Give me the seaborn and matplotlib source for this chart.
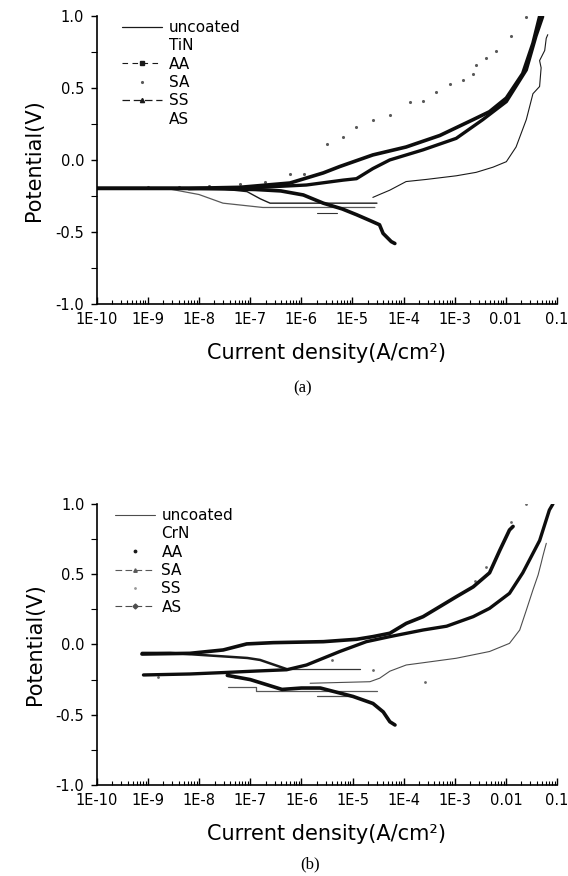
import numpy as np
import matplotlib
matplotlib.use("Agg")
import matplotlib.pyplot as plt
from matplotlib.lines import Line2D
from matplotlib.ticker import LogLocator, MultipleLocator, FormatStrFormatter, NullFormatter
import seaborn as sns

sns.set_style("ticks")
plt.rcParams['font.family'] = ['DejaVu Sans']
plt.rcParams.update({"text.color": "black", "axes.labelcolor": "black",
                     "xtick.color": "black", "ytick.color": "black",
                     "axes.edgecolor": "black"})

# x values are log10(current density, A/cm2), y values are potential (V)

# ---- (a) TiN coated ----
tin_uncoated_start_i = [-5.70, -5.31]
tin_uncoated_start_e = [-0.37, -0.37]
tin_uncoated_i = [-4.60, -4.47, -4.27, -3.95, -3.55, -2.97, -2.58, -2.25, -1.99, -1.80,
                  -1.70, -1.60, -1.47, -1.34, -1.31, -1.34, -1.24, -1.21, -1.18]
tin_uncoated_e = [-0.26, -0.24, -0.21, -0.15, -0.135, -0.11, -0.086, -0.05, -0.012, 0.09,
                  0.185, 0.28, 0.46, 0.51, 0.64, 0.69, 0.76, 0.845, 0.87]

tin_aa_cath_i = [-4.17, -4.24, -4.40, -4.47, -4.66, -4.92, -5.20, -5.57, -5.96, -6.40,
                 -6.90, -8.00, -10.0]
tin_aa_cath_e = [-0.58, -0.567, -0.51, -0.45, -0.42, -0.38, -0.34, -0.30, -0.243, -0.215,
                 -0.205, -0.197, -0.197]
tin_aa_anod_i = [-10.0, -8.20, -7.20, -6.22, -5.57, -5.25, -4.60, -3.95, -3.29, -2.64,
                 -2.32, -1.99, -1.67, -1.47, -1.34]
tin_aa_anod_e = [-0.197, -0.197, -0.19, -0.16, -0.09, -0.046, 0.035, 0.09, 0.17, 0.28,
                 0.335, 0.43, 0.60, 0.81, 0.995]

tin_ss_cath_i = [-4.52, -6.61, -6.80, -7.06, -7.60]
tin_ss_cath_e = [-0.30, -0.30, -0.27, -0.22, -0.20]
tin_ss_anod_i = [-8.20, -7.20, -5.90, -5.18, -4.92, -4.60, -4.27, -3.62, -2.97, -2.45,
                 -1.99, -1.60, -1.41, -1.28]
tin_ss_anod_e = [-0.20, -0.197, -0.174, -0.14, -0.13, -0.06, 0.0, 0.07, 0.15, 0.28,
                 0.405, 0.625, 0.86, 0.995]

tin_as_i = [-4.56, -6.75, -7.53, -8.00, -8.60]
tin_as_e = [-0.33, -0.33, -0.30, -0.24, -0.20]

tin_sa_i = [-9.0, -8.4, -7.8, -7.2, -6.7, -6.22, -5.95, -5.5, -5.18, -4.92, -4.60, -4.27,
            -3.88, -3.62, -3.36, -3.10, -2.84, -2.64, -2.58, -2.38, -2.19, -1.90, -1.60]
tin_sa_e = [-0.185, -0.19, -0.18, -0.17, -0.15, -0.10, -0.10, 0.11, 0.16, 0.23, 0.28, 0.31,
            0.40, 0.41, 0.47, 0.53, 0.555, 0.60, 0.66, 0.705, 0.76, 0.86, 0.995]

# ---- (b) CrN coated ----
crn_uncoated_i = [-5.83, -4.66, -4.47, -4.27, -3.95, -3.62, -2.97, -2.32, -1.93, -1.73,
                  -1.60, -1.47, -1.37, -1.31, -1.28, -1.24, -1.21]
crn_uncoated_e = [-0.276, -0.265, -0.24, -0.19, -0.146, -0.13, -0.098, -0.05, 0.008, 0.103,
                  0.245, 0.39, 0.495, 0.58, 0.625, 0.68, 0.72]

crn_as_i = [-9.12, -8.18, -7.53, -7.07, -6.55, -5.57, -4.92, -4.60, -4.27, -3.95, -3.62,
            -3.29, -2.97, -2.64, -2.32, -2.12, -1.93, -1.86]
crn_as_e = [-0.068, -0.063, -0.039, 0.004, 0.013, 0.02, 0.037, 0.056, 0.08, 0.15, 0.198,
            0.27, 0.34, 0.41, 0.51, 0.67, 0.815, 0.84]
crn_as_start_i = [-4.53, -6.88, -6.88, -7.43]
crn_as_start_e = [-0.33, -0.33, -0.30, -0.30]

crn_sa_i = [-9.09, -8.18, -7.53, -6.88, -6.29, -5.90, -5.25, -4.73, -4.27, -3.62, -3.16,
            -2.64, -2.32, -1.93, -1.67, -1.34, -1.15, -1.08]
crn_sa_e = [-0.217, -0.21, -0.20, -0.189, -0.18, -0.146, -0.05, 0.02, 0.056, 0.103, 0.13,
            0.198, 0.257, 0.364, 0.51, 0.74, 0.957, 1.0]

crn_aa_i = [-6.29, -6.81, -7.06, -8.57, -9.12]
crn_aa_e = [-0.175, -0.11, -0.096, -0.06, -0.06]

crn_ss_flat_i = [-6.29, -4.86]
crn_ss_flat_e = [-0.178, -0.178]
crn_ss_cath_i = [-4.17, -4.27, -4.40, -4.60, -4.99, -5.63, -6.00, -6.38, -7.00, -7.45]
crn_ss_cath_e = [-0.573, -0.55, -0.48, -0.42, -0.37, -0.31, -0.31, -0.32, -0.25, -0.22]
crn_ss_short_i = [-5.70, -4.99]
crn_ss_short_e = [-0.37, -0.37]
crn_ss_dots_i = [-1.60, -1.91, -2.38, -2.60, -3.59, -4.60, -5.40, -7.30, -8.80]
crn_ss_dots_e = [1.0, 0.87, 0.55, 0.45, -0.27, -0.18, -0.11, -0.23, -0.23]

tick_exps = list(range(-10, 0))
tick_labels = ["1E-10", "1E-9", "1E-8", "1E-7", "1E-6", "1E-5", "1E-4", "1E-3", "0.01", "0.1"]


def draw_line(ax, log_i, pot, color, lw):
    sns.lineplot(x=10.0 ** np.asarray(log_i), y=pot, ax=ax, color=color, linewidth=lw,
                 sort=False, estimator=None, legend=False)


def draw_dots(ax, log_i, pot, color, size):
    sns.scatterplot(x=10.0 ** np.asarray(log_i), y=pot, ax=ax, color=color, s=size,
                    linewidth=0, legend=False)


def style_axes(ax):
    ax.set_xscale("log")
    ax.set_xlim(1e-10, 0.1)
    ax.set_ylim(-1.0, 1.0)
    ax.set_xticks([10.0 ** k for k in tick_exps], tick_labels)
    ax.xaxis.set_minor_locator(LogLocator(base=10, subs=np.arange(2, 10), numticks=100))
    ax.xaxis.set_minor_formatter(NullFormatter())
    ax.yaxis.set_major_locator(MultipleLocator(0.5))
    ax.yaxis.set_minor_locator(MultipleLocator(0.25))
    ax.yaxis.set_major_formatter(FormatStrFormatter('%.1f'))
    for side in ["top", "right"]:
        ax.spines[side].set_visible(False)
    for side in ["left", "bottom"]:
        ax.spines[side].set_linewidth(1.2)
    ax.tick_params(axis="x", which="major", direction="in", length=5, width=1, labelsize=10.5, pad=6)
    ax.tick_params(axis="x", which="minor", direction="in", length=3, width=0.8)
    ax.tick_params(axis="y", which="major", direction="out", length=4, width=1, labelsize=10.5, pad=5)
    ax.tick_params(axis="y", which="minor", direction="out", length=4, width=0.8)
    ax.set_xlabel("Current density(A/cm²)", fontsize=15, labelpad=11)
    ax.set_ylabel("Potential(V)", fontsize=15, labelpad=8)


def blank():
    return Line2D([], [], linestyle="none")


fig = plt.figure(figsize=(5.68, 8.76), dpi=100)
ax_a = fig.add_axes([0.1702, 0.6530, 0.8104, 0.3288])
ax_b = fig.add_axes([0.1707, 0.1039, 0.8100, 0.3208])

# panel (a)
style_axes(ax_a)
draw_line(ax_a, tin_uncoated_start_i, tin_uncoated_start_e, "0.2", 0.8)
draw_line(ax_a, tin_uncoated_i, tin_uncoated_e, "0.1", 0.8)
draw_line(ax_a, tin_as_i, tin_as_e, "0.35", 0.9)
draw_line(ax_a, tin_ss_cath_i, tin_ss_cath_e, "0.1", 1.0)
draw_line(ax_a, tin_aa_cath_i, tin_aa_cath_e, "0.05", 2.6)
draw_line(ax_a, tin_aa_anod_i, tin_aa_anod_e, "0.05", 2.6)
draw_line(ax_a, tin_ss_anod_i, tin_ss_anod_e, "0.05", 2.4)
draw_dots(ax_a, tin_sa_i, tin_sa_e, "0.35", 5)

handles_a = [Line2D([], [], color="0.1", lw=0.9),
             blank(),
             Line2D([], [], color="0.1", lw=0.8, ls=(0, (5, 4)), marker="s", ms=3),
             Line2D([], [], ls="none", marker=".", ms=2.5, color="0.35"),
             Line2D([], [], color="0.1", lw=0.9, ls=(0, (6, 3)), marker="^", ms=3),
             blank()]
labels_a = ["uncoated", "TiN", "AA", "SA", "SS", "AS"]
ax_a.legend(handles_a, labels_a, loc="upper left", bbox_to_anchor=(0.055, 0.986),
            frameon=False, fontsize=11, handlelength=2.6, handletextpad=0.45,
            labelspacing=0.22, borderaxespad=0, borderpad=0, numpoints=1)

# panel (b)
style_axes(ax_b)
draw_line(ax_b, crn_uncoated_i, crn_uncoated_e, "0.3", 0.8)
draw_line(ax_b, crn_as_start_i, crn_as_start_e, "0.35", 0.9)
draw_line(ax_b, crn_ss_flat_i, crn_ss_flat_e, "0.2", 0.9)
draw_line(ax_b, crn_ss_short_i, crn_ss_short_e, "0.3", 0.9)
draw_line(ax_b, crn_ss_cath_i, crn_ss_cath_e, "0.05", 2.6)
draw_line(ax_b, crn_aa_i, crn_aa_e, "0.1", 1.8)
draw_line(ax_b, crn_sa_i, crn_sa_e, "0.05", 2.4)
draw_line(ax_b, crn_as_i, crn_as_e, "0.05", 2.6)
draw_dots(ax_b, crn_ss_dots_i, crn_ss_dots_e, "0.4", 4)

handles_b = [Line2D([], [], color="0.3", lw=0.8),
             blank(),
             Line2D([], [], ls="none", marker=".", ms=3.5, color="0.1"),
             Line2D([], [], color="0.35", lw=0.8, ls=(0, (6, 3)), marker="^", ms=2.5),
             Line2D([], [], ls="none", marker=".", ms=2, color="0.6"),
             Line2D([], [], color="0.3", lw=0.8, ls=(0, (6, 3)), marker="D", ms=2.5)]
labels_b = ["uncoated", "CrN", "AA", "SA", "SS", "AS"]
ax_b.legend(handles_b, labels_b, loc="upper left", bbox_to_anchor=(0.039, 0.986),
            frameon=False, fontsize=11, handlelength=2.6, handletextpad=0.45,
            labelspacing=0.22, borderaxespad=0, borderpad=0, numpoints=1)

fig.text(303 / 568, 1 - 388 / 876, "(a)", ha="center", va="center", fontsize=12,
         family="Liberation Serif")
fig.text(310 / 568, 1 - 864 / 876, "(b)", ha="center", va="center", fontsize=12,
         family="Liberation Serif")

fig.savefig("out.png", dpi=100, facecolor="white")
